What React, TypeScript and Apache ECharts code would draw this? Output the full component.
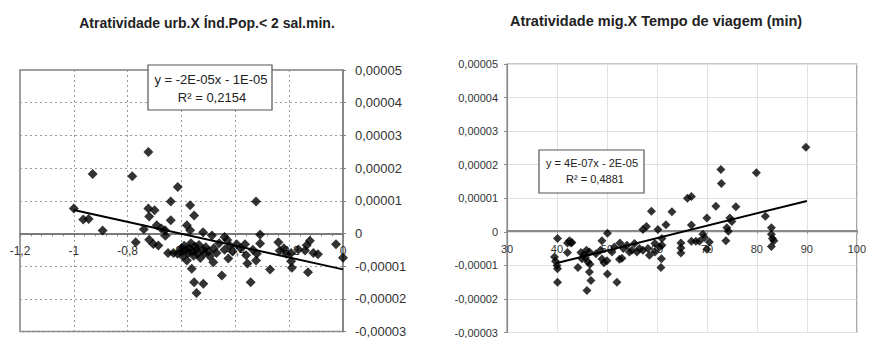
import React, { useEffect, useRef } from "react";
import * as echarts from "echarts";

// Values in units of 1e-5 on the y axes
const leftTitle = "Atratividade urb.X Índ.Pop.< 2 sal.min.";
const rightTitle = "Atratividade mig.X Tempo de viagem (min)";
const leftEquation = ["y = -2E-05x - 1E-05", "R² = 0,2154"];
const rightEquation = ["y = 4E-07x - 2E-05", "R² = 0,4881"];

const leftPoints: [number, number][] = [
  [-1.0, 0.76], [-0.965, 0.43], [-0.945, 0.44], [-0.93, 1.82], [-0.893, 0.09],
  [-0.783, 1.75], [-0.77, -0.27], [-0.74, 0.13], [-0.723, 2.49], [-0.723, 0.76],
  [-0.7, 0.71], [-0.72, 0.52], [-0.72, -0.19], [-0.705, -0.32], [-0.686, -0.37],
  [-0.692, 0.25], [-0.675, 0.15], [-0.661, 0.1], [-0.66, -0.07], [-0.64, 0.98],
  [-0.64, 0.4], [-0.614, 1.42], [-0.65, -0.6], [-0.63, -0.6], [-0.615, -0.62],
  [-0.6, -0.45], [-0.6, -0.55], [-0.595, -0.7], [-0.59, -0.38], [-0.585, -0.5],
  [-0.58, 0.25], [-0.58, -0.83], [-0.575, -0.6], [-0.57, -0.45], [-0.568, 0.86],
  [-0.568, 0.1], [-0.565, -0.3], [-0.562, -1.08], [-0.56, -0.55], [-0.555, -0.68],
  [-0.553, 0.55], [-0.553, -1.49], [-0.55, -0.4], [-0.545, -0.5], [-0.544, -1.82],
  [-0.54, -0.62], [-0.535, -0.35], [-0.53, -0.75], [-0.52, 0.04], [-0.52, -0.5],
  [-0.519, -1.54], [-0.515, -0.6], [-0.51, -0.42], [-0.5, -0.55], [-0.495, -0.7],
  [-0.487, -0.06], [-0.482, -0.88], [-0.48, -0.45], [-0.47, -0.6], [-0.46, -0.3],
  [-0.45, -1.29], [-0.44, -0.11], [-0.44, -0.5], [-0.43, -0.2], [-0.426, -0.77],
  [-0.42, -0.38], [-0.41, -0.55], [-0.395, -0.33], [-0.38, -0.45], [-0.364, -0.33],
  [-0.36, -0.67], [-0.355, -0.92], [-0.343, -1.49], [-0.335, -0.5], [-0.323, 0.98],
  [-0.323, -0.83], [-0.32, -0.62], [-0.308, -0.03], [-0.308, -0.31], [-0.271, -1.1],
  [-0.24, -0.27], [-0.235, -0.53], [-0.22, -0.45], [-0.21, -0.62], [-0.193, -0.6],
  [-0.193, -0.85], [-0.19, -1.05], [-0.166, -0.49], [-0.141, -0.52], [-0.135, -0.36],
  [-0.123, -0.22], [-0.13, -1.19], [-0.11, -0.6], [-0.093, -0.64], [-0.026, -0.33],
  [0, -0.74],
];
const leftTrend: [number, number][] = [[-1.0, 0.72], [0, -1.1]];

const rightPoints: [number, number][] = [
  [39.5, -0.75], [39.7, -0.88], [40, -1.0], [40.1, -0.2], [40.1, -1.1], [40.1, -1.5],
  [42.1, -0.33], [42.5, -0.27], [42.8, -0.33], [43, -0.32], [42.1, -0.62], [44.2, -1.06],
  [44.8, -0.62], [45, -0.8], [45.4, -0.68], [45.7, -0.77], [45.9, -0.55], [46.2, -0.9],
  [46.5, -0.6], [46, -1.75], [46.5, -1.2], [46.6, -0.97], [46.8, -1.45], [47.8, -0.65],
  [48.7, -0.55], [49, -0.27], [49, -0.81], [49.4, -0.92], [50, -0.86], [50.1, -0.04],
  [50.1, -1.26], [51, -0.6], [51.5, -0.45], [52, -1.5], [52.5, -0.82], [52.6, -0.33],
  [53, -0.79], [53.3, -0.5], [54, -0.4], [54.5, -0.6], [55, -0.55], [55.5, -0.35],
  [56, -0.6], [56.5, -0.5], [57.2, 0.07], [57.2, -0.55], [57.9, 0.16], [58.2, -0.5],
  [58.5, -0.7], [58.9, 0.61], [59.6, -0.35], [59.6, -0.6], [60.2, 0.07], [60.5, -0.45],
  [60.8, -1.06], [60.9, -0.8], [61, -0.2], [61, -0.4], [61.8, 0.21], [63, 0.6],
  [64.8, -0.33], [64.8, -0.48], [64.8, -0.63], [66.1, 1.0], [66.9, 1.05], [66.9, 0.2],
  [66.9, -0.28], [67.8, -0.28], [68.5, -0.28], [69.2, -0.07], [69.5, -0.17], [70, 0.41],
  [70, -0.52], [70.5, -0.3], [71.8, 0.76], [72.8, 1.86], [72.9, 1.44], [73.8, -0.27],
  [74, 0.12], [74.3, 0.02], [74.6, 0.41], [75, 0.31], [75.8, 0.75], [79.9, 1.76],
  [81.7, 0.46], [82.9, 0.12], [82.9, -0.07], [83.1, -0.2], [83.4, -0.27], [82.9, -0.44],
  [89.8, 2.52],
];
const rightTrend: [number, number][] = [[40, -0.93], [90, 0.92]];

const FONT = "Liberation Sans, Arial, sans-serif";

const fmtY = (v: number) => {
  if (Math.abs(v) < 1e-9) return "0";
  return (v * 1e-5).toFixed(5).replace(".", ",");
};
const fmtX = (v: number) => String(Math.round(v * 10) / 10).replace(".", ",");

// plot areas (pixels)
const L = { left: 20, top: 70, right: 343, bottom: 332 };
const R = { left: 507, top: 64, right: 862, bottom: 336 };
const Y_MIN = -3;
const Y_MAX = 5;
// distance from bottom edge up to the y = 0 line, so the x axis sits on zero
const zeroOffset = (g: { top: number; bottom: number }) =>
  -((g.bottom - g.top) * (0 - Y_MIN)) / (Y_MAX - Y_MIN);

export default function App() {
  const ref = useRef<HTMLDivElement>(null);
  useEffect(() => {
    if (!ref.current) return;
    const chart = echarts.init(ref.current, undefined, { renderer: "svg" });
    const dotted = { lineStyle: { color: "#9a9a9a", type: [2, 3] as any, width: 1 } };
    chart.setOption({
      animation: false,
      backgroundColor: "#ffffff",
      grid: [
        { left: L.left, top: L.top, right: 869 - L.right, bottom: 338 - L.bottom, show: true, borderColor: "#808080", borderWidth: 1.5 },
        { left: R.left, top: R.top, right: 869 - R.right, bottom: 338 - R.bottom, show: true, borderColor: "#909090", borderWidth: 1.2 },
      ],
      xAxis: [
        {
          type: "value", gridIndex: 0, min: -1.2, max: 0, interval: 0.2,
          position: "bottom", offset: zeroOffset(L),
          axisLine: { onZero: false, lineStyle: { color: "#7a7a7a", width: 2 } },
          axisTick: { show: true, length: 4, lineStyle: { color: "#7a7a7a" } },
          minorTick: { show: true, splitNumber: 5, length: 3, lineStyle: { color: "#7a7a7a" } },
          axisLabel: { formatter: fmtX, fontSize: 12, color: "#333", fontFamily: FONT, margin: 12 },
          splitLine: { show: true, ...dotted },
        },
        {
          type: "value", gridIndex: 1, min: 30, max: 100, interval: 10,
          position: "bottom", offset: zeroOffset(R),
          axisLine: { onZero: false, lineStyle: { color: "#8a8a8a", width: 2 } },
          axisTick: { show: true, length: 3, lineStyle: { color: "#8a8a8a" } },
          axisLabel: { fontSize: 11, color: "#333", fontFamily: FONT, margin: 13 },
          splitLine: { show: true, lineStyle: { color: "#e2e2e2", width: 1 } },
        },
      ],
      yAxis: [
        {
          type: "value", gridIndex: 0, min: Y_MIN, max: Y_MAX, interval: 1, position: "right",
          axisLine: { show: true, onZero: false, lineStyle: { color: "#808080", width: 1.5 } },
          axisTick: { show: true, length: 3, lineStyle: { color: "#808080" } },
          axisLabel: { formatter: fmtY, fontSize: 13, color: "#333", fontFamily: FONT, margin: 12 },
          splitLine: { show: true, ...dotted },
        },
        {
          type: "value", gridIndex: 1, min: Y_MIN, max: Y_MAX, interval: 1, position: "left",
          axisLine: { show: true, onZero: false, lineStyle: { color: "#8a8a8a", width: 1.2 } },
          axisTick: { show: true, length: 3, lineStyle: { color: "#8a8a8a" } },
          axisLabel: { formatter: fmtY, fontSize: 11, color: "#333", fontFamily: FONT, margin: 9 },
          splitLine: { show: true, lineStyle: { color: "#e2e2e2", width: 1 } },
        },
      ],
      series: [
        {
          type: "scatter", xAxisIndex: 0, yAxisIndex: 0, data: leftPoints,
          symbol: "diamond", symbolSize: 10, itemStyle: { color: "#000" }, z: 3,
        },
        {
          type: "line", xAxisIndex: 0, yAxisIndex: 0, data: leftTrend,
          showSymbol: false, lineStyle: { color: "#000", width: 2 }, z: 4,
        },
        {
          type: "scatter", xAxisIndex: 1, yAxisIndex: 1, data: rightPoints,
          symbol: "diamond", symbolSize: 9, itemStyle: { color: "#000" }, z: 3,
        },
        {
          type: "line", xAxisIndex: 1, yAxisIndex: 1, data: rightTrend,
          showSymbol: false, lineStyle: { color: "#000", width: 2 }, z: 4,
        },
      ],
      graphic: [
        {
          type: "text", x: 207, y: 23, z: 10,
          style: { text: leftTitle, font: `bold 14px ${FONT}`, fill: "#222", textAlign: "center", textVerticalAlign: "middle" },
        },
        {
          type: "text", x: 656, y: 21, z: 10,
          style: { text: rightTitle, font: `bold 14.5px ${FONT}`, fill: "#222", textAlign: "center", textVerticalAlign: "middle" },
        },
        {
          type: "rect", z: 10, shape: { x: 148, y: 65, width: 124, height: 45 },
          style: { fill: "#fff", stroke: "#555", lineWidth: 1.2 },
        },
        {
          type: "text", x: 211, y: 79, z: 11,
          style: { text: leftEquation[0], font: `13px ${FONT}`, fill: "#222", textAlign: "center", textVerticalAlign: "middle" },
        },
        {
          type: "text", x: 212, y: 97, z: 11,
          style: { text: leftEquation[1], font: `13px ${FONT}`, fill: "#222", textAlign: "center", textVerticalAlign: "middle" },
        },
        {
          type: "rect", z: 10, shape: { x: 539, y: 150, width: 105, height: 43 },
          style: { fill: "#fff", stroke: "#555", lineWidth: 1.2 },
        },
        {
          type: "text", x: 592, y: 163, z: 11,
          style: { text: rightEquation[0], font: `11px ${FONT}`, fill: "#222", textAlign: "center", textVerticalAlign: "middle" },
        },
        {
          type: "text", x: 595, y: 179, z: 11,
          style: { text: rightEquation[1], font: `11px ${FONT}`, fill: "#222", textAlign: "center", textVerticalAlign: "middle" },
        },
      ],
    });
    return () => chart.dispose();
  }, []);
  return (
    <div
      ref={ref}
      style={{ position: "fixed", left: 0, top: 0, width: 869, height: 338, background: "#fff" }}
    />
  );
}
